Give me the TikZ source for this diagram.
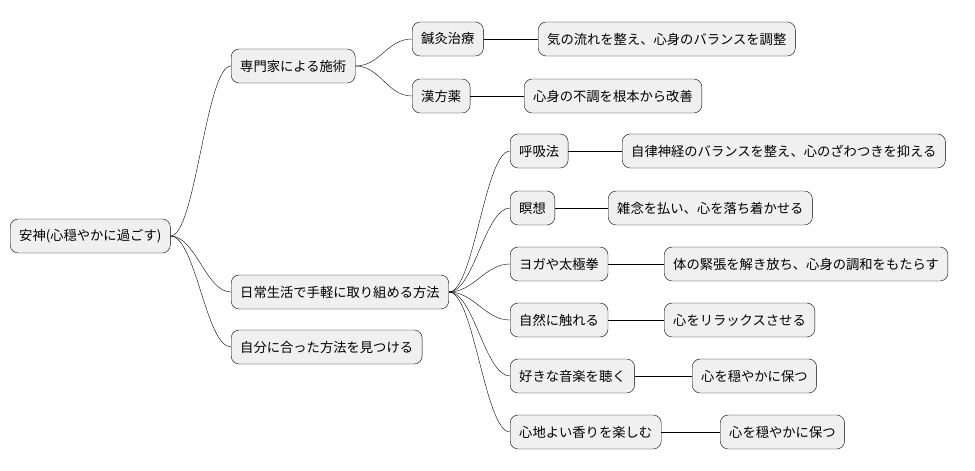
\documentclass[tikz,border=0pt]{standalone}
\usepackage{fontspec}
\setmainfont{Noto Sans CJK JP}
\begin{document}
\begin{tikzpicture}[x=1pt,y=-1pt,
  topic/.style={draw, thin, rounded corners=8pt, fill=gray!12, minimum height=34pt,
    inner xsep=9pt, anchor=west, font=\fontsize{13.3}{15}\selectfont},
  branch/.style={thin}]
  \useasboundingbox (0,0) rectangle (975,471);
  % root and first level
  \node[topic] (anshin)   at (10,236)  {安神(心穏やかに過ごす)};
  \node[topic] (senmon)   at (231,66)  {専門家による施術};
  \node[topic] (nichijo)  at (231,292) {日常生活で手軽に取り組める方法};
  \node[topic] (jibun)    at (231,347) {自分に合った方法を見つける};
  % experts
  \node[topic] (shinkyu)  at (412,39)  {鍼灸治療};
  \node[topic] (shinkyuA) at (538,39)  {気の流れを整え、心身のバランスを調整};
  \node[topic] (kampo)    at (412,96)  {漢方薬};
  \node[topic] (kampoA)   at (524,96)  {心身の不調を根本から改善};
  % daily life
  \node[topic] (kokyu)    at (510,151) {呼吸法};
  \node[topic] (kokyuA)   at (622,151) {自律神経のバランスを整え、心のざわつきを抑える};
  \node[topic] (meiso)    at (510,208) {瞑想};
  \node[topic] (meisoA)   at (608,208) {雑念を払い、心を落ち着かせる};
  \node[topic] (yoga)     at (510,264) {ヨガや太極拳};
  \node[topic] (yogaA)    at (664,264) {体の緊張を解き放ち、心身の調和をもたらす};
  \node[topic] (shizen)   at (510,320) {自然に触れる};
  \node[topic] (shizenA)  at (664,320) {心をリラックスさせる};
  \node[topic] (ongaku)   at (510,376) {好きな音楽を聴く};
  \node[topic] (ongakuA)  at (692,376) {心を穏やかに保つ};
  \node[topic] (kaori)    at (510,432) {心地よい香りを楽しむ};
  \node[topic] (kaoriA)   at (720,432) {心を穏やかに保つ};
  % connectors
  \foreach \a/\b in {anshin/senmon, anshin/nichijo, anshin/jibun,
      senmon/shinkyu, senmon/kampo,
      nichijo/kokyu, nichijo/meiso, nichijo/yoga, nichijo/shizen, nichijo/ongaku, nichijo/kaori}
    \draw[branch] (\a.east) .. controls +(25,0) and +(-25,0) .. (\b.west);
  \foreach \a in {shinkyu, kampo, kokyu, meiso, yoga, shizen, ongaku, kaori}
    \draw[branch] (\a.east) -- (\a A.west);
\end{tikzpicture}
\end{document}
